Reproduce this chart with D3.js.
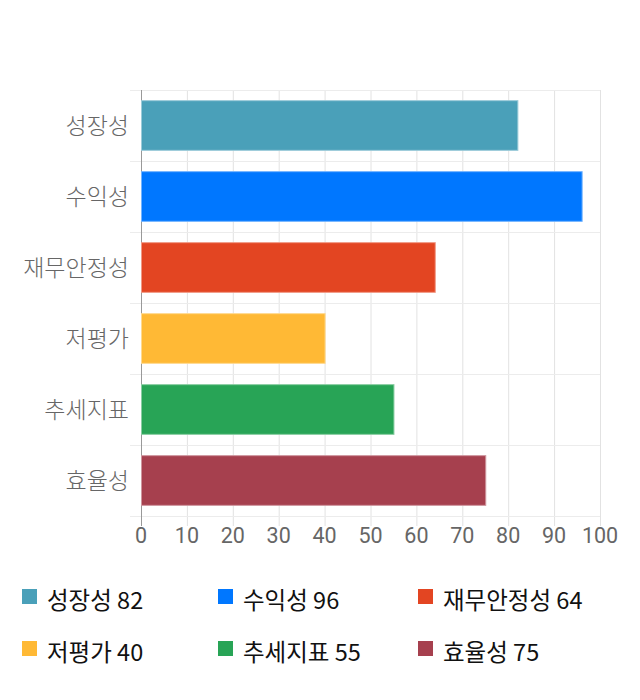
<!DOCTYPE html>
<html>
<head>
<meta charset="utf-8">
<script src="https://cdn.jsdelivr.net/npm/d3@7"></script>
<style>
  body { margin: 0; background: #fff; }
  text { font-family: "Noto Sans CJK KR", "Noto Sans", sans-serif; }
</style>
</head>
<body>
<div id="chart"></div>
<script>
const categories = ["성장성", "수익성", "재무안정성", "저평가", "추세지표", "효율성"];
const values = [82, 96, 64, 40, 55, 75];
const colors = ["#4aa0b9", "#0077ff", "#e34522", "#ffb935", "#28a456", "#a6404e"];
const xTicks = [0, 10, 20, 30, 40, 50, 60, 70, 80, 90, 100];

const width = 640, height = 700;
const margin = {left: 141, right: 40, top: 90, bottom: 184};

let svg = d3.select("#chart")
    .append("svg")
    .attr("width", width)
    .attr("height", height);

let x = d3.scaleLinear()
    .domain([0, 100])
    .range([margin.left, width - margin.right]);

let y = d3.scaleBand()
    .domain(categories)
    .range([margin.top, height - margin.bottom])
    .paddingInner(0.3)
    .paddingOuter(0.15);

let plotBottom = height - margin.bottom;

// vertical grid lines (extend below as tick marks)
svg.append("g")
    .selectAll("line")
    .data(xTicks)
    .enter()
    .append("line")
    .attr("x1", d => x(d) + 0.5)
    .attr("x2", d => x(d) + 0.5)
    .attr("y1", margin.top)
    .attr("y2", plotBottom + 10)
    .attr("stroke", "#e2e2e2")
    .attr("stroke-width", 1);

// horizontal band separators
let bounds = categories.map(c => y(c) - y.step() * y.paddingInner() / 2);
bounds.push(plotBottom);
svg.append("g")
    .selectAll("line")
    .data(bounds)
    .enter()
    .append("line")
    .attr("x1", margin.left - 11)
    .attr("x2", x(100))
    .attr("y1", d => Math.round(d) + 0.5)
    .attr("y2", d => Math.round(d) + 0.5)
    .attr("stroke", "#ececec")
    .attr("stroke-width", 1);

// y axis line
svg.append("line")
    .attr("x1", margin.left + 0.5)
    .attr("x2", margin.left + 0.5)
    .attr("y1", margin.top)
    .attr("y2", plotBottom + 10)
    .attr("stroke", "#999")
    .attr("stroke-width", 1);

// bars
svg.append("g")
    .selectAll("rect")
    .data(categories)
    .enter()
    .append("rect")
    .attr("x", x(0) + 0.5)
    .attr("y", d => y(d))
    .attr("width", (d, i) => x(values[i]) - x(0))
    .attr("height", y.bandwidth())
    .attr("fill", (d, i) => colors[i])
    .attr("stroke", (d, i) => d3.interpolateRgb(colors[i], "#ffffff")(0.45))
    .attr("stroke-width", 1);

// category labels
svg.append("g")
    .selectAll("text")
    .data(categories)
    .enter()
    .append("text")
    .attr("x", margin.left - 12)
    .attr("y", d => y(d) + y.bandwidth() / 2)
    .attr("dy", "0.35em")
    .style("text-anchor", "end")
    .style("font-size", "23px")
    .style("font-weight", 300)
    .attr("fill", "#666")
    .text(d => d);

// x tick labels
svg.append("g")
    .selectAll("text")
    .data(xTicks)
    .enter()
    .append("text")
    .attr("x", d => x(d))
    .attr("y", plotBottom + 19)
    .attr("dy", "0.35em")
    .style("text-anchor", "middle")
    .style("font-size", "21.5px")
    .style("font-family", "Roboto, sans-serif")
    .attr("fill", "#666")
    .text(d => d);

// legend
let legendCols = [22, 218, 418];
let legend = svg.append("g")
    .selectAll("g")
    .data(categories)
    .enter()
    .append("g")
    .attr("transform", (d, i) => `translate(${legendCols[i % 3]}, ${589 + Math.floor(i / 3) * 52})`);

legend.append("rect")
    .attr("width", 15)
    .attr("height", 15)
    .attr("fill", (d, i) => colors[i]);

legend.append("text")
    .attr("x", 25)
    .attr("y", 14)
    .attr("dy", "0.25em")
    .style("font-size", "23.5px")
    .attr("fill", "#111")
    .text((d, i) => `${d} ${values[i]}`);
</script>
</body>
</html>
